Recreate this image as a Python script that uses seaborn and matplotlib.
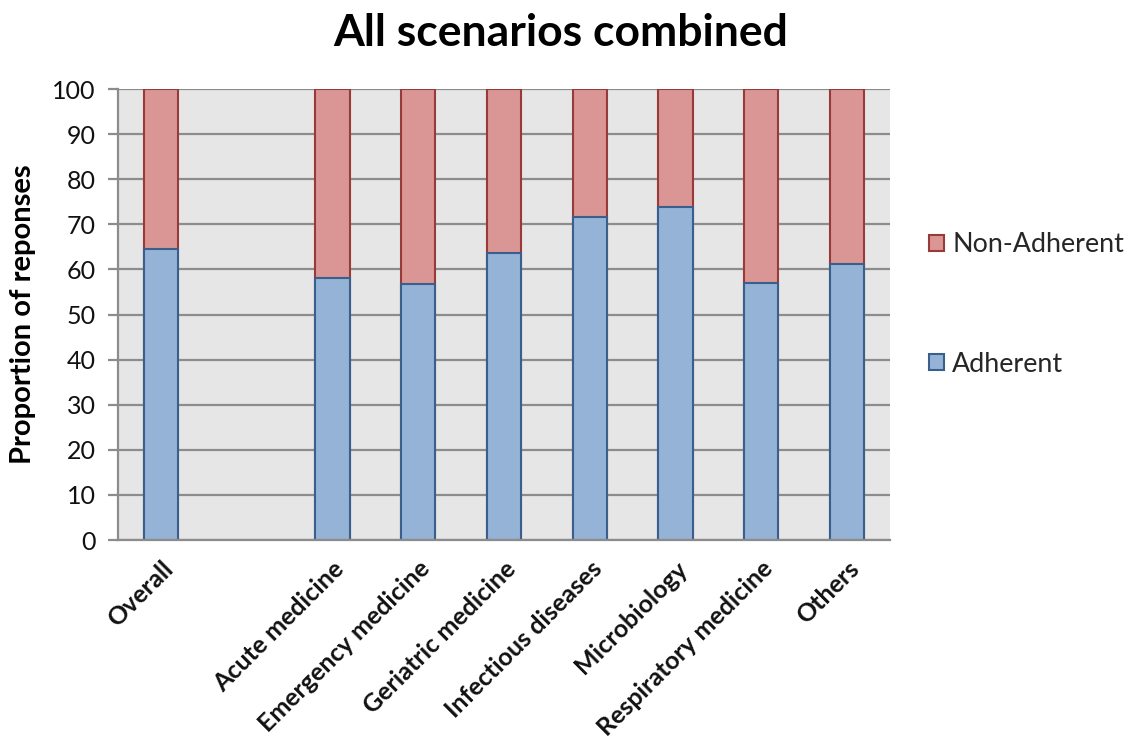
import numpy as np
import pandas as pd
import matplotlib
matplotlib.use("Agg")
import matplotlib.pyplot as plt
import seaborn as sns
from matplotlib.patches import Patch

# Specialty groups (the second slot is an intentional gap after "Overall")
categories = ["Overall", " ", "Acute medicine", "Emergency medicine",
              "Geriatric medicine", "Infectious diseases", "Microbiology",
              "Respiratory medicine", "Others"]
adherent = [64.5, np.nan, 58.2, 56.7, 63.7, 71.7, 73.9, 57.0, 61.1]
non_adherent = [35.5, np.nan, 41.8, 43.3, 36.3, 28.3, 26.1, 43.0, 38.9]
y_ticks = list(range(0, 101, 10))

df = pd.DataFrame({"group": categories,
                   "Adherent": adherent,
                   "Non-Adherent": non_adherent})
df["total"] = df["Adherent"] + df["Non-Adherent"]

sns.set_theme(style="white")
plt.rcParams["font.family"] = ["Lato", "DejaVu Sans"]

blue_fill, blue_edge = "#95B3D7", "#3A5F8C"
red_fill, red_edge = "#D99694", "#9A3A38"

fig = plt.figure(figsize=(11.28, 7.42), dpi=100)
ax = fig.add_axes([0.1046, 0.2722, 0.6844, 0.6078])
ax.set_facecolor("#E6E6E6")

# stacked bars: full stack in red, adherent share drawn over it in blue
sns.barplot(data=df, x="group", y="total", order=categories, ax=ax,
            color=red_fill, edgecolor=red_edge, linewidth=1.5,
            width=0.4, saturation=1, errorbar=None)
sns.barplot(data=df, x="group", y="Adherent", order=categories, ax=ax,
            color=blue_fill, edgecolor=blue_edge, linewidth=1.5,
            width=0.4, saturation=1, errorbar=None)

ax.set_xlim(-0.5, len(categories) - 0.5)
ax.set_ylim(0, 100)
ax.set_yticks(y_ticks)
ax.set_yticklabels([str(v) for v in y_ticks], fontsize=18, color="#111111")
ax.yaxis.grid(True, color="#8C8C8C", linewidth=1.6)
ax.set_axisbelow(True)

# category labels centred on bars, tick marks between categories
ax.set_xticks(range(len(categories)))
ax.set_xticklabels(categories, rotation=45, ha="right",
                   rotation_mode="anchor", fontsize=18, fontweight="bold",
                   color="#111111")
ax.tick_params(axis="x", which="major", length=0, pad=12)
ax.set_xticks(np.arange(-0.5, len(categories), 1.0), minor=True)
ax.tick_params(axis="x", which="minor", length=7, width=1.6,
               color="#8C8C8C", direction="out")
ax.tick_params(axis="y", which="major", length=7, width=1.6,
               color="#8C8C8C", direction="out", pad=9, left=True)

for side in ["top", "right"]:
    ax.spines[side].set_visible(False)
for side in ["left", "bottom"]:
    ax.spines[side].set_color("#8C8C8C")
    ax.spines[side].set_linewidth(1.6)

ax.set_xlabel("")
ax.set_ylabel("Proportion of reponses", fontsize=21, fontweight="bold",
              labelpad=12, color="#000000")

fig.suptitle("All scenarios combined", fontsize=32, fontweight="bold",
             x=0.497, y=0.983, color="#000000")

handles = [Patch(facecolor=red_fill, edgecolor=red_edge, linewidth=1.5),
           Patch(facecolor=blue_fill, edgecolor=blue_edge, linewidth=1.5)]
fig.legend(handles, ["Non-Adherent", "Adherent"], loc="upper left",
           bbox_to_anchor=(0.824, 0.687), frameon=False, fontsize=19.4,
           borderpad=0, borderaxespad=0,
           handlelength=0.55, handleheight=0.55, handletextpad=0.3,
           labelspacing=3.5)

fig.savefig("out.png", dpi=100, facecolor="white")
